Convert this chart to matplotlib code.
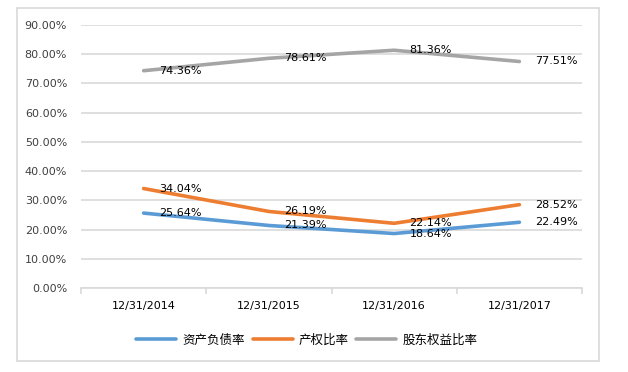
import matplotlib
matplotlib.use("Agg")
import matplotlib.pyplot as plt
from matplotlib.patches import Rectangle

plt.rcParams['font.family'] = ['DejaVu Sans', 'Noto Sans CJK SC']

dates = ["12/31/2014", "12/31/2015", "12/31/2016", "12/31/2017"]
series_names = ["资产负债率", "产权比率", "股东权益比率"]
debt_ratio = [25.64, 21.39, 18.64, 22.49]
equity_ratio = [34.04, 26.19, 22.14, 28.52]
holder_ratio = [74.36, 78.61, 81.36, 77.51]
colors = ["#5B9BD5", "#ED7D31", "#A5A5A5"]
yticks = [0, 10, 20, 30, 40, 50, 60, 70, 80, 90]

fig = plt.figure(figsize=(6.28, 3.72), dpi=100)
ax = fig.add_axes([81/628, 1-288/372, (582-81)/628, (288-25)/372])

x = list(range(len(dates)))
for vals, name, c in zip([debt_ratio, equity_ratio, holder_ratio], series_names, colors):
    ax.plot(x, vals, color=c, lw=2.6, label=name, solid_capstyle="round")
    for xi, v in zip(x, vals):
        ax.annotate(f"{v:.2f}%", (xi, v), xytext=(11, 0), textcoords="offset points",
                    va="center", ha="left", fontsize=8, color="#000000")

ax.set_ylim(0, 90)
ax.set_xlim(-0.5, 3.5)
ax.set_yticks(yticks)
ax.set_yticklabels([f"{t:.2f}%" for t in yticks], fontsize=8, color="#404040")
ax.tick_params(axis="y", length=0, pad=10)
ax.yaxis.grid(True, color="#D9D9D9", lw=1.2)
ax.set_axisbelow(True)

ax.set_xticks([-0.5, 0.5, 1.5, 2.5, 3.5])
ax.set_xticklabels([])
ax.set_xticks(x, minor=True)
ax.set_xticklabels(dates, minor=True, fontsize=8, color="#000000")
ax.tick_params(axis="x", which="major", length=4, color="#D9D9D9", width=1.2)
ax.tick_params(axis="x", which="minor", length=0, pad=9)

for s in ["top", "right", "left"]:
    ax.spines[s].set_visible(False)
ax.spines["bottom"].set_color("#D9D9D9")
ax.spines["bottom"].set_linewidth(1.2)

fig.legend(loc="center", bbox_to_anchor=(307/628, 1-340/372), ncol=3, frameon=False,
           fontsize=9, handlelength=3.2, columnspacing=0.6, handletextpad=0.5)

fig.patches.append(Rectangle((17/628, 1-361/372), (599-17)/628, (361-8)/372,
                             transform=fig.transFigure, fill=False, edgecolor="#D9D9D9", lw=1.2))

fig.savefig("out.png", dpi=100)
